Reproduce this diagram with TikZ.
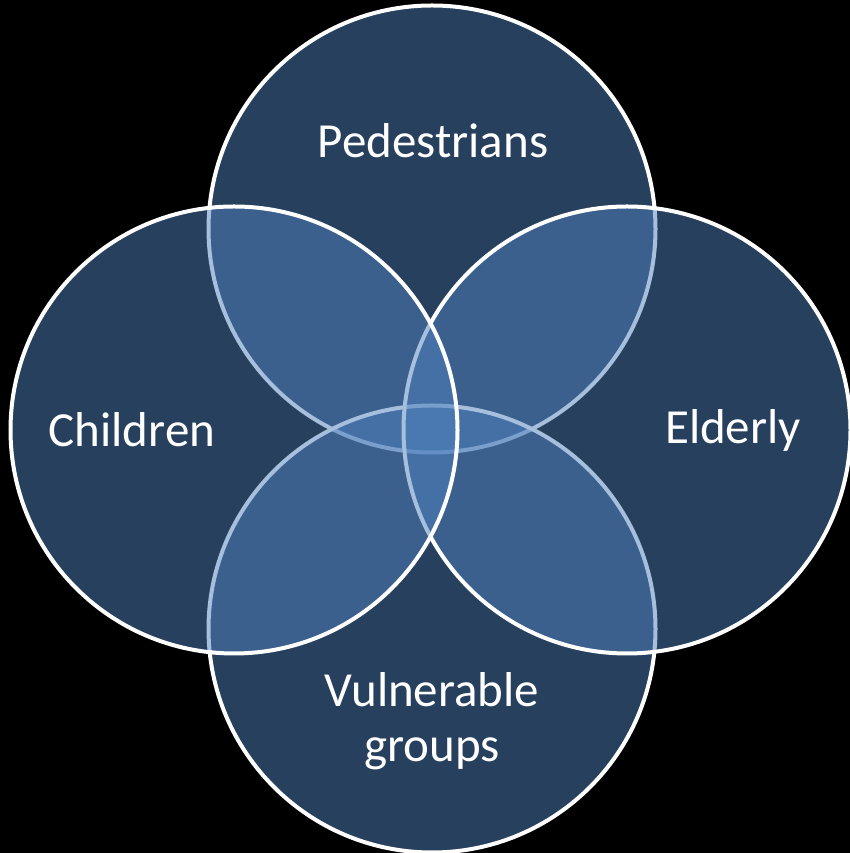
\documentclass[tikz,border=0pt]{standalone}
\usepackage{fontspec}
\setmainfont{Carlito}
\definecolor{acc}{RGB}{79,129,189}
\begin{document}
\begin{tikzpicture}[x=1pt,y=1pt,
  venn/.style={circle, minimum size=447pt, inner sep=0pt, fill=acc, fill opacity=0.5, draw=white, draw opacity=1, line width=4pt},
  lbl/.style={text=white, font=\fontsize{49}{55}\selectfont, align=center, inner sep=0pt}]
\fill[black] (0,0) rectangle (850,853);
\useasboundingbox (0,0) rectangle (850,853);
\node[venn] (ctop) at (432,624) {};
\node[venn] (cbot) at (432,224) {};
\node[venn] (cright) at (627,423) {};
\node[venn] (cleft) at (234,423) {};
\node[lbl] (tped) at (433,712) {Pedestrians};
\node[lbl] (tchi) at (132,423) {Children};
\node[lbl] (teld) at (733,423) {Elderly};
\node[lbl] (tvul) at (432,132) {Vulnerable\\groups};
\end{tikzpicture}
\end{document}
